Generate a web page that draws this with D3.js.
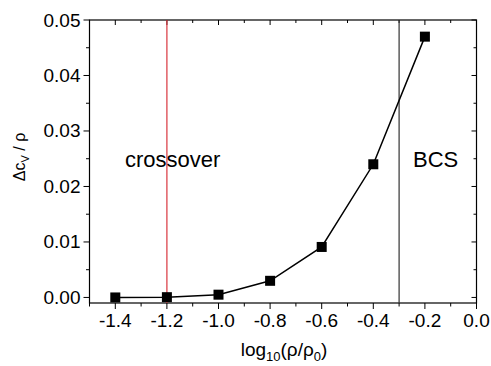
<!DOCTYPE html>
<html>
<head>
<meta charset="utf-8">
<script src="https://cdn.jsdelivr.net/npm/d3@7"></script>
<style>
  body { margin: 0; background: #fff; }
  text { font-family: "Liberation Sans", Arial, sans-serif; }
</style>
</head>
<body>
<div id="chart"></div>
<script>
// data
const logRho = [-1.4, -1.2, -1.0, -0.8, -0.6, -0.4, -0.2];
const dcv = [0.0, 0.00005, 0.0005, 0.003, 0.0091, 0.024, 0.047];
const xTicks = [-1.4, -1.2, -1.0, -0.8, -0.6, -0.4, -0.2, 0.0];
const yTicks = [0.00, 0.01, 0.02, 0.03, 0.04, 0.05];
const crossoverX = -1.2;
const bcsX = -0.3;

const width = 491, height = 366;
const svg = d3.select("#chart").append("svg")
    .attr("width", width)
    .attr("height", height);

const x = d3.scaleLinear().domain([-1.5, 0]).range([89.5, 476.5]);
const y = d3.scaleLinear().domain([-0.001, 0.05]).range([303, 20]);

const xMinor = d3.range(-1.5, 0.001, 0.1).map(v => +v.toFixed(2));
const yMinor = d3.range(0, 0.0501, 0.005).map(v => +v.toFixed(3));
const isMajor = (ticks, d) => ticks.some(t => Math.abs(t - d) < 1e-6);

// frame
svg.append("rect")
    .attr("x", x.range()[0]).attr("y", y.range()[1])
    .attr("width", x.range()[1] - x.range()[0])
    .attr("height", y.range()[0] - y.range()[1])
    .attr("fill", "none").attr("stroke", "#000").attr("stroke-width", 1.2);

// bottom axis (ticks outward)
const bottom = svg.append("g").attr("transform", `translate(0,${y.range()[0]})`);
bottom.selectAll("line").data(xMinor).join("line")
    .attr("x1", d => x(d)).attr("x2", d => x(d))
    .attr("y1", 0).attr("y2", d => isMajor(xTicks, d) ? 6 : 3.5)
    .attr("stroke", "#000");
bottom.selectAll("text").data(xTicks).join("text")
    .attr("x", d => x(d)).attr("y", 24)
    .attr("text-anchor", "middle")
    .attr("font-size", 19)
    .text(d => d3.format(".1f")(d).replace("−", "-"));

// top axis (ticks inward)
svg.append("g").selectAll("line").data(xMinor).join("line")
    .attr("x1", d => x(d)).attr("x2", d => x(d))
    .attr("y1", y.range()[1])
    .attr("y2", d => y.range()[1] + (isMajor(xTicks, d) ? 5 : 3))
    .attr("stroke", "#000");

// left axis (ticks outward)
const left = svg.append("g").attr("transform", `translate(${x.range()[0]},0)`);
left.selectAll("line").data(yMinor).join("line")
    .attr("y1", d => y(d)).attr("y2", d => y(d))
    .attr("x1", 0).attr("x2", d => isMajor(yTicks, d) ? -6 : -3.5)
    .attr("stroke", "#000");
left.selectAll("text").data(yTicks).join("text")
    .attr("x", -9).attr("y", d => y(d) + 6.5)
    .attr("text-anchor", "end")
    .attr("font-size", 19)
    .text(d => d3.format(".2f")(d));

// right axis (ticks inward)
svg.append("g").selectAll("line").data(yMinor).join("line")
    .attr("y1", d => y(d)).attr("y2", d => y(d))
    .attr("x1", x.range()[1])
    .attr("x2", d => x.range()[1] - (isMajor(yTicks, d) ? 5 : 3))
    .attr("stroke", "#000");

// vertical markers
svg.append("line")
    .attr("x1", x(crossoverX)).attr("x2", x(crossoverX))
    .attr("y1", y.range()[1]).attr("y2", y.range()[0])
    .attr("stroke", "#d9363e").attr("stroke-width", 1.2);
svg.append("line")
    .attr("x1", x(bcsX)).attr("x2", x(bcsX))
    .attr("y1", y.range()[1]).attr("y2", y.range()[0])
    .attr("stroke", "#333").attr("stroke-width", 1.2);

svg.append("text").attr("x", 125).attr("y", 166.5)
    .attr("font-size", 22).text("crossover");
svg.append("text").attr("x", 413).attr("y", 166.5)
    .attr("font-size", 22).text("BCS");

// data line + markers
const pts = logRho.map((v, i) => ({x: v, y: dcv[i]}));
svg.append("path")
    .datum(pts)
    .attr("fill", "none").attr("stroke", "#000").attr("stroke-width", 1.5)
    .attr("d", d3.line().x(d => x(d.x)).y(d => y(d.y)));
svg.selectAll("rect.pt").data(pts).join("rect")
    .attr("class", "pt")
    .attr("x", d => x(d.x) - 5).attr("y", d => y(d.y) - 5)
    .attr("width", 10).attr("height", 10)
    .attr("fill", "#000");

// axis titles
const xt = svg.append("text").attr("x", 284).attr("y", 356)
    .attr("text-anchor", "middle").attr("font-size", 19);
xt.append("tspan").text("log");
xt.append("tspan").attr("font-size", 13).attr("dy", 5).text("10");
xt.append("tspan").attr("dy", -5).text("(ρ/ρ");
xt.append("tspan").attr("font-size", 13).attr("dy", 5).text("0");
xt.append("tspan").attr("dy", -5).text(")");

const yt = svg.append("text")
    .attr("transform", "translate(25,157) rotate(-90)")
    .attr("text-anchor", "middle").attr("font-size", 16);
yt.append("tspan").text("Δc");
yt.append("tspan").attr("font-size", 11).attr("dy", 4).text("V");
yt.append("tspan").attr("dy", -4).text(" / ρ");
</script>
</body>
</html>
